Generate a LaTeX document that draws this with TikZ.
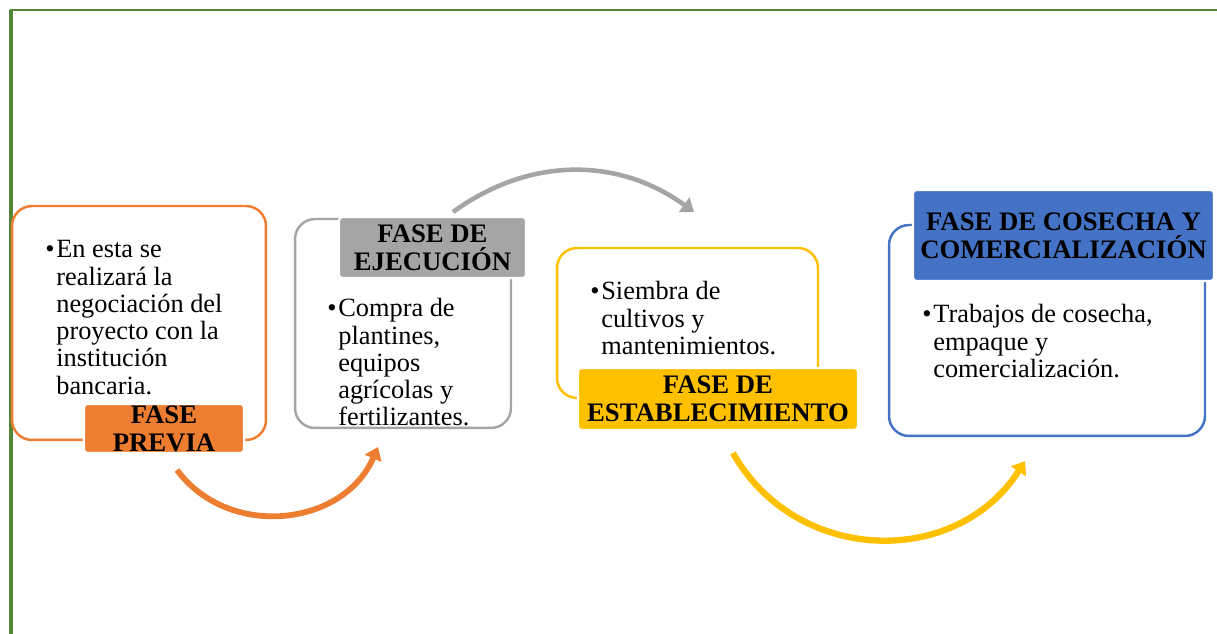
\documentclass[tikz,border=0pt]{standalone}
\usepackage{fontspec}
\setmainfont{Liberation Serif}
\usetikzlibrary{arrows.meta}

\definecolor{faseorange}{RGB}{237,125,49}
\definecolor{fasegray}{RGB}{165,165,165}
\definecolor{faseyellow}{RGB}{255,192,0}
\definecolor{faseblue}{RGB}{68,114,196}
\definecolor{margen}{RGB}{84,134,56}

\tikzset{
	marco/.style={draw=#1, line width=1.4pt, rounded corners=0.4cm, inner sep=0pt},
	titulo/.style={fill=#1, draw=white, line width=1.2pt, rounded corners=2pt, inner sep=0pt,
		align=center, font=\fontsize{15.2}{16}\selectfont\bfseries},
	texto/.style={anchor=base west, inner sep=0pt, font=\fontsize{15}{15.5}\selectfont},
	flecha/.style={draw=#1, line width=3.3pt, -{Triangle[length=7pt,width=10pt]}}
}
\newcommand{\vineta}[1]{\textbullet\hspace{1pt}\begin{tabular}[t]{@{}l@{}}#1\end{tabular}}

\begin{document}
\begin{tikzpicture}[x=0.02cm,y=-0.02cm]
	\useasboundingbox (0,0) rectangle (1217,634);
	% margen
	\draw[margen,line width=2pt] (11,634) -- (11,10);
	\draw[margen,line width=1.2pt] (10,10) -- (1217,10);
	% marcos
	\node[marco=faseorange, minimum width=5.08cm, minimum height=4.68cm] (previa box) at (139,323) {};
	\node[marco=fasegray, minimum width=4.32cm, minimum height=4.18cm] (ejecucion box) at (403,323.5) {};
	\node[marco=faseyellow, minimum width=5.22cm, minimum height=3cm] (establ box) at (687.5,323) {};
	\node[marco=faseblue, minimum width=6.32cm, minimum height=4.22cm] (cosecha box) at (1047,330.5) {};
	% titulos
	\node[titulo=faseorange, minimum width=3.2cm, minimum height=0.98cm] (previa) at (164,428.5) {FASE\\PREVIA};
	\node[titulo=fasegray, minimum width=3.74cm, minimum height=1.22cm] (ejecucion) at (432.5,247.5) {FASE DE\\EJECUCIÓN};
	\node[titulo=faseyellow, minimum width=5.6cm, minimum height=1.24cm] (establ) at (718,399) {FASE DE\\ESTABLECIMIENTO};
	\node[titulo=faseblue, minimum width=6.02cm, minimum height=1.82cm] (cosecha) at (1063.5,235.5) {FASE DE COSECHA Y\\COMERCIALIZACIÓN};
	% textos
	\node[texto] (previa text) at (45,258) {\vineta{En esta se\\realizará la\\negociación del\\proyecto con la\\institución\\bancaria.}};
	\node[texto] (ejecucion text) at (327,317) {\vineta{Compra de\\plantines,\\equipos\\agrícolas y\\fertilizantes.}};
	\node[texto] (establ text) at (590,300) {\vineta{Siembra de\\cultivos y\\mantenimientos.}};
	\node[texto] (cosecha text) at (922,323) {\vineta{Trabajos de cosecha,\\empaque y\\comercialización.}};
	% flechas
	\coordinate (o1) at (177,470);
	\coordinate (o2) at (378,447);
	\coordinate (g1) at (453,212);
	\coordinate (g2) at (694,212);
	\coordinate (y1) at (733,453);
	\coordinate (y2) at (1025,461);
	\draw[flecha=faseorange] (o1) to[bend right=60,looseness=1.1] (o2);
	\draw[flecha=fasegray,line width=2.6pt] (g1) to[bend left=36] (g2);
	\draw[flecha=faseyellow,line width=3.6pt] (y1) to[bend right=59,looseness=1.12] (y2);
\end{tikzpicture}
\end{document}
